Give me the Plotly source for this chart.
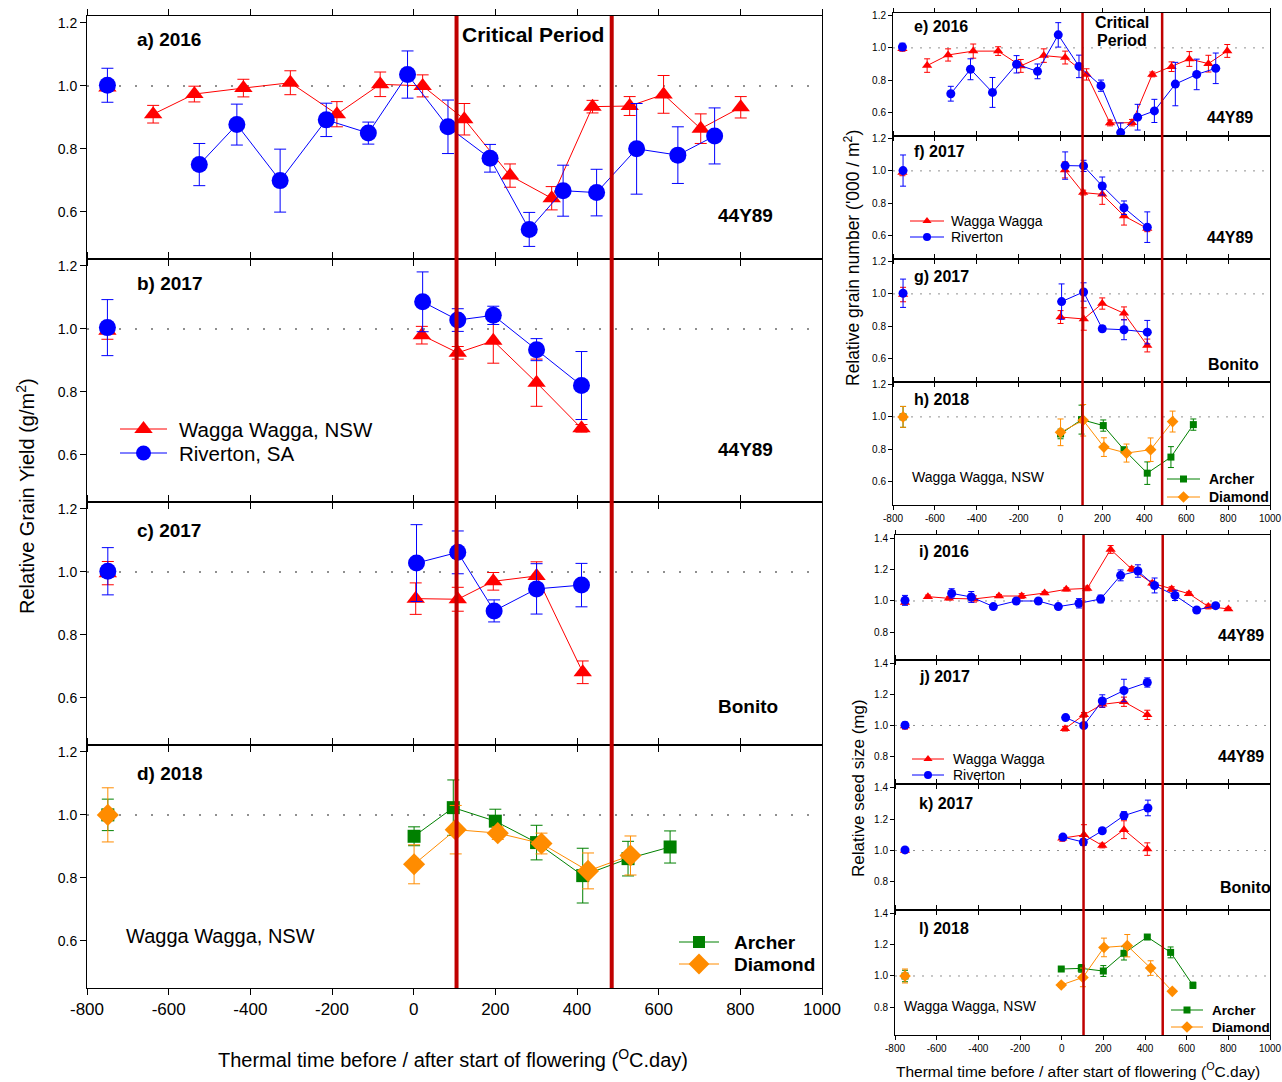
import plotly.graph_objects as go

W, H = 1282, 1082

# ---------------- data ----------------
crit = [105, 485]  # critical period boundaries (degC.day)
xticks = [-800, -600, -400, -200, 0, 200, 400, 600, 800, 1000]

# a) 2016 grain yield, 44Y89
a_ww_x = [-750, -638, -537, -417, -302, -188, -82, 22, 124, 236, 338, 438, 529, 612, 703, 801]
a_ww_y = [0.995, 0.91, 0.974, 0.993, 1.01, 0.91, 1.005, 1.0, 0.894, 0.715, 0.643, 0.934, 0.936, 0.973, 0.864, 0.932]
a_ww_e = [0.01, 0.028, 0.025, 0.028, 0.038, 0.04, 0.039, 0.035, 0.05, 0.037, 0.037, 0.02, 0.03, 0.06, 0.047, 0.034]
a_rv_x = [-750, -525, -433, -327, -214, -111, -15, 84, 187, 283, 366, 448, 546, 647, 737]
a_rv_y = [1.002, 0.75, 0.877, 0.699, 0.892, 0.85, 1.036, 0.87, 0.77, 0.544, 0.667, 0.661, 0.8, 0.78, 0.841]
a_rv_e = [0.054, 0.067, 0.065, 0.1, 0.053, 0.035, 0.075, 0.085, 0.044, 0.054, 0.081, 0.074, 0.144, 0.09, 0.089]

# b) 2017 grain yield, 44Y89
b_ww_x = [-750, 20, 108, 195, 301, 411]
b_ww_y = [0.994, 0.98, 0.924, 0.962, 0.829, 0.684]
b_ww_e = [0.027, 0.028, 0.02, 0.071, 0.075, 0.012]
b_rv_x = [-750, 22, 108, 195, 301, 411]
b_rv_y = [1.004, 1.086, 1.028, 1.043, 0.934, 0.82]
b_rv_e = [0.089, 0.095, 0.036, 0.029, 0.035, 0.108]

# c) 2017 grain yield, Bonito
c_ww_x = [-749, 5, 108, 195, 301, 414]
c_ww_y = [0.996, 0.915, 0.913, 0.97, 0.987, 0.681]
c_ww_e = [0.037, 0.05, 0.038, 0.028, 0.045, 0.036]
c_rv_x = [-749, 7, 108, 197, 301, 411]
c_rv_y = [1.002, 1.028, 1.062, 0.876, 0.946, 0.958]
c_rv_e = [0.075, 0.122, 0.068, 0.035, 0.08, 0.069]

# d) 2018 grain yield, Wagga Wagga
d_ar_x = [-749, 1, 97, 200, 301, 414, 525, 628]
d_ar_y = [1.0, 0.932, 1.023, 0.98, 0.912, 0.807, 0.861, 0.898]
d_ar_e = [0.05, 0.03, 0.088, 0.038, 0.055, 0.087, 0.055, 0.051]
d_di_x = [-749, 1, 103, 206, 313, 427, 531]
d_di_y = [1.0, 0.843, 0.953, 0.942, 0.909, 0.822, 0.871]
d_di_e = [0.086, 0.062, 0.077, 0.02, 0.033, 0.057, 0.062]

# e) 2016 grain number, 44Y89
e_ww_x = [-755, -637, -537, -417, -298, -190, -80, 22, 124, 236, 341, 438, 530, 615, 706, 796]
e_ww_y = [0.994, 0.89, 0.956, 0.98, 0.98, 0.888, 0.952, 0.94, 0.835, 0.533, 0.535, 0.835, 0.883, 0.931, 0.902, 0.981]
e_ww_e = [0.015, 0.042, 0.038, 0.044, 0.027, 0.04, 0.042, 0.04, 0.035, 0.018, 0.02, 0.015, 0.03, 0.046, 0.052, 0.04]
e_rv_x = [-755, -524, -430, -325, -210, -110, -11, 88, 193, 287, 368, 448, 548, 650, 741]
e_rv_y = [1.006, 0.715, 0.867, 0.723, 0.898, 0.854, 1.081, 0.885, 0.765, 0.473, 0.569, 0.608, 0.775, 0.835, 0.873]
e_rv_e = [0.023, 0.046, 0.065, 0.093, 0.054, 0.046, 0.076, 0.07, 0.035, 0.06, 0.08, 0.072, 0.135, 0.095, 0.095]

# f) 2017 grain number, 44Y89
f_ww_x = [-755, 21, 108, 199, 303, 414]
f_ww_y = [0.99, 1.006, 0.865, 0.854, 0.72, 0.642]
f_ww_e = [0.02, 0.05, 0.015, 0.062, 0.057, 0.02]
f_rv_x = [-752, 22, 110, 199, 303, 414]
f_rv_y = [1.002, 1.033, 1.031, 0.906, 0.771, 0.65]
f_rv_e = [0.097, 0.085, 0.035, 0.056, 0.042, 0.095]

# g) 2017 grain number, Bonito
g_ww_x = [-752, 0, 111, 199, 303, 414]
g_ww_y = [0.996, 0.856, 0.844, 0.94, 0.879, 0.679]
g_ww_e = [0.045, 0.04, 0.07, 0.035, 0.04, 0.04]
g_rv_x = [-752, 5, 110, 199, 303, 414]
g_rv_y = [1.004, 0.952, 1.012, 0.783, 0.777, 0.762]
g_rv_e = [0.088, 0.11, 0.057, 0.018, 0.062, 0.073]

# h) 2018 grain number, Wagga Wagga
h_ar_x = [-752, 0, 100, 204, 303, 414, 527, 634]
h_ar_y = [1.0, 0.894, 0.983, 0.946, 0.796, 0.65, 0.75, 0.952]
h_ar_e = [0.065, 0.03, 0.09, 0.035, 0.01, 0.07, 0.065, 0.035]
h_di_x = [-752, 0, 108, 207, 315, 430, 535]
h_di_y = [1.0, 0.904, 0.979, 0.812, 0.775, 0.796, 0.971]
h_di_e = [0.065, 0.083, 0.098, 0.058, 0.056, 0.073, 0.065]

# i) 2016 seed size, 44Y89
i_ww_x = [-752, -642, -541, -421, -301, -192, -82, 22, 123, 235, 336, 435, 528, 611, 704, 800]
i_ww_y = [0.991, 1.028, 1.017, 1.013, 1.032, 1.032, 1.051, 1.075, 1.081, 1.332, 1.206, 1.114, 1.077, 1.047, 0.964, 0.949]
i_ww_e = [0.012, 0.01, 0.01, 0.02, 0.01, 0.015, 0.01, 0.01, 0.015, 0.025, 0.015, 0.015, 0.015, 0.012, 0.015, 0.01]
i_rv_x = [-752, -528, -434, -328, -218, -112, -16, 83, 187, 283, 366, 446, 544, 648, 739]
i_rv_y = [1.004, 1.049, 1.026, 0.964, 1.0, 1.0, 0.964, 0.985, 1.013, 1.165, 1.193, 1.1, 1.036, 0.942, 0.97]
i_rv_e = [0.032, 0.03, 0.035, 0.01, 0.01, 0.01, 0.01, 0.03, 0.025, 0.035, 0.04, 0.048, 0.033, 0.008, 0.01]

# j) 2017 seed size, 44Y89
j_ww_x = [-752, 16, 107, 195, 299, 411]
j_ww_y = [0.996, 0.979, 1.069, 1.137, 1.154, 1.069]
j_ww_e = [0.02, 0.015, 0.015, 0.02, 0.03, 0.03]
j_rv_x = [-752, 19, 106, 195, 299, 411]
j_rv_y = [1.002, 1.051, 1.0, 1.159, 1.227, 1.279]
j_rv_e = [0.02, 0.01, 0.01, 0.04, 0.073, 0.03]

# k) 2017 seed size, Bonito
k_ww_x = [-752, 3, 107, 195, 299, 411]
k_ww_y = [1.0, 1.079, 1.1, 1.032, 1.133, 1.009]
k_ww_e = [0.015, 0.02, 0.065, 0.015, 0.057, 0.04]
k_rv_x = [-752, 6, 104, 195, 299, 414]
k_rv_y = [1.004, 1.086, 1.054, 1.126, 1.223, 1.272]
k_rv_e = [0.01, 0.015, 0.02, 0.015, 0.025, 0.05]

# l) 2018 seed size, Wagga Wagga
l_ar_x = [-752, -2, 94, 200, 299, 411, 523, 630]
l_ar_y = [1.0, 1.045, 1.049, 1.032, 1.146, 1.251, 1.152, 0.94]
l_ar_e = [0.037, 0.01, 0.025, 0.035, 0.043, 0.01, 0.035, 0.02]
l_di_x = [-752, -2, 102, 203, 315, 427, 531]
l_di_y = [1.0, 0.942, 0.991, 1.184, 1.195, 1.051, 0.901]
l_di_e = [0.045, 0.015, 0.06, 0.06, 0.072, 0.047, 0.01]

RED, BLUE, GREEN, ORANGE = "#ff0000", "#0000ff", "#008000", "#ff8c00"
CRIT = "#c00000"
FONT = "Liberation Sans, Arial, sans-serif"

fig = go.Figure()


def px(x):
    return x / W


def py(y):
    return 1 - y / H


# panel geometry in pixels: (x0, x1, ytop, ybot, yrange, group)
panels = [
    (87, 822, 16, 259, [0.45, 1.222], "L"),
    (87, 822, 259, 502, [0.45, 1.222], "L"),
    (87, 822, 502, 745, [0.45, 1.222], "L"),
    (87, 822, 745, 988, [0.45, 1.222], "L"),
    (893, 1270, 13, 136, [0.452, 1.217], "RU"),
    (893, 1270, 136, 259, [0.452, 1.217], "RU"),
    (893, 1270, 259, 382, [0.452, 1.217], "RU"),
    (893, 1270, 382, 505, [0.452, 1.217], "RU"),
    (895, 1270, 535, 660, [0.62, 1.425], "RL"),
    (895, 1270, 660, 784, [0.62, 1.425], "RL"),
    (895, 1270, 784, 910, [0.62, 1.425], "RL"),
    (895, 1270, 910, 1035, [0.62, 1.425], "RL"),
]
bottom_panels = {4, 8, 12}

layout = {}
shapes = []
for i, (x0, x1, yt, yb, yr, grp) in enumerate(panels, start=1):
    big = grp == "L"
    xk = "xaxis" if i == 1 else f"xaxis{i}"
    yk = "yaxis" if i == 1 else f"yaxis{i}"
    layout[xk] = dict(
        domain=[px(x0), px(x1)], range=[-800, 1000], anchor="y" if i == 1 else f"y{i}",
        tickvals=xticks, ticktext=[str(v) for v in xticks],
        ticks="outside", ticklen=6 if big else 4, tickcolor="black",
        showline=True, linecolor="black", linewidth=1, mirror="ticks",
        showgrid=False, zeroline=False, showticklabels=i in bottom_panels,
        automargin=False,
        tickfont=dict(family=FONT, size=17 if big else 10, color="black"),
    )
    yvals = [0.8, 1.0, 1.2, 1.4] if grp == "RL" else [0.6, 0.8, 1.0, 1.2]
    layout[yk] = dict(
        domain=[py(yb), py(yt)], range=yr, anchor="x" if i == 1 else f"x{i}",
        tickvals=yvals, ticktext=[f"{v:.1f}" for v in yvals],
        ticks="outside", ticklen=6 if big else 4, tickcolor="black",
        showline=True, linecolor="black", linewidth=1, mirror=True,
        showgrid=False, zeroline=False, automargin=False,
        tickfont=dict(family=FONT, size=14 if big else 10, color="black"),
    )
    xr = "x" if i == 1 else f"x{i}"
    yrr = "y" if i == 1 else f"y{i}"
    shapes.append(dict(
        type="line", xref=f"{xr} domain", yref=yrr, x0=0, x1=1, y0=1.0, y1=1.0,
        line=dict(color="#909090", width=2 if big else 1, dash="2px,14px" if big else "2px,7px"),
        layer="below"))

# overlay pixel axis for legend glyphs
layout["xaxis13"] = dict(domain=[0, 1], range=[0, W], visible=False, anchor="y13",
                         automargin=False, fixedrange=True)
layout["yaxis13"] = dict(domain=[0, 1], range=[H, 0], visible=False, anchor="x13",
                         automargin=False, fixedrange=True)

# critical period lines
for xr, ytop, ybot, w in [("x", 16, 988, 4), ("x5", 13, 505, 2.5), ("x9", 535, 1035, 2.5)]:
    for c in crit:
        shapes.append(dict(type="line", xref=xr, yref="paper", x0=c, x1=c,
                           y0=py(ybot), y1=py(ytop), line=dict(color=CRIT, width=w),
                           layer="above"))


def series(i, xs, ys, es, color, symbol, size, cap):
    xa = "x" if i == 1 else f"x{i}"
    ya = "y" if i == 1 else f"y{i}"
    # reference (pre-treatment) point, not connected
    fig.add_trace(go.Scatter(
        x=xs[:1], y=ys[:1], mode="markers", xaxis=xa, yaxis=ya,
        marker=dict(symbol=symbol, size=size, color=color, line=dict(width=0)),
        error_y=dict(type="data", array=es[:1], color=color, thickness=1, width=cap),
        showlegend=False, hoverinfo="skip"))
    fig.add_trace(go.Scatter(
        x=xs[1:], y=ys[1:], mode="lines+markers", xaxis=xa, yaxis=ya,
        line=dict(color=color, width=1),
        marker=dict(symbol=symbol, size=size, color=color, line=dict(width=0)),
        error_y=dict(type="data", array=es[1:], color=color, thickness=1, width=cap),
        showlegend=False))


# left panels
series(1, a_ww_x, a_ww_y, a_ww_e, RED, "triangle-up", 16, 6)
series(1, a_rv_x, a_rv_y, a_rv_e, BLUE, "circle", 17, 6)
series(2, b_ww_x, b_ww_y, b_ww_e, RED, "triangle-up", 16, 6)
series(2, b_rv_x, b_rv_y, b_rv_e, BLUE, "circle", 17, 6)
series(3, c_ww_x, c_ww_y, c_ww_e, RED, "triangle-up", 16, 6)
series(3, c_rv_x, c_rv_y, c_rv_e, BLUE, "circle", 17, 6)
series(4, d_ar_x, d_ar_y, d_ar_e, GREEN, "square", 13, 6)
series(4, d_di_x, d_di_y, d_di_e, ORANGE, "diamond", 17, 6)
# right upper panels
series(5, e_ww_x, e_ww_y, e_ww_e, RED, "triangle-up", 9, 3)
series(5, e_rv_x, e_rv_y, e_rv_e, BLUE, "circle", 9, 3)
series(6, f_ww_x, f_ww_y, f_ww_e, RED, "triangle-up", 9, 3)
series(6, f_rv_x, f_rv_y, f_rv_e, BLUE, "circle", 9, 3)
series(7, g_ww_x, g_ww_y, g_ww_e, RED, "triangle-up", 9, 3)
series(7, g_rv_x, g_rv_y, g_rv_e, BLUE, "circle", 9, 3)
series(8, h_ar_x, h_ar_y, h_ar_e, GREEN, "square", 7, 3)
series(8, h_di_x, h_di_y, h_di_e, ORANGE, "diamond", 9, 3)
# right lower panels
series(9, i_ww_x, i_ww_y, i_ww_e, RED, "triangle-up", 9, 3)
series(9, i_rv_x, i_rv_y, i_rv_e, BLUE, "circle", 9, 3)
series(10, j_ww_x, j_ww_y, j_ww_e, RED, "triangle-up", 9, 3)
series(10, j_rv_x, j_rv_y, j_rv_e, BLUE, "circle", 9, 3)
series(11, k_ww_x, k_ww_y, k_ww_e, RED, "triangle-up", 9, 3)
series(11, k_rv_x, k_rv_y, k_rv_e, BLUE, "circle", 9, 3)
series(12, l_ar_x, l_ar_y, l_ar_e, GREEN, "square", 7, 3)
series(12, l_di_x, l_di_y, l_di_e, ORANGE, "diamond", 9, 3)

# annotations
ann = []


def text(t, x, y, size, bold=False, anchor="center", angle=0):
    ann.append(dict(text=f"<b>{t}</b>" if bold else t, x=px(x), y=py(y), xref="paper", yref="paper",
                    xanchor=anchor, yanchor="middle", showarrow=False, textangle=angle,
                    font=dict(family=FONT, size=size, color="black")))


# legend entries drawn on the pixel overlay axis
def legend_entry(lx0, lx1, y, color, symbol, size, label, fsize, bold, tx):
    fig.add_trace(go.Scatter(
        x=[lx0, (lx0 + lx1) / 2, lx1], y=[y, y, y], mode="lines", xaxis="x13", yaxis="y13",
        line=dict(color=color, width=1), showlegend=False, hoverinfo="skip"))
    fig.add_trace(go.Scatter(
        x=[(lx0 + lx1) / 2], y=[y], mode="markers", xaxis="x13", yaxis="y13",
        marker=dict(symbol=symbol, size=size, color=color, line=dict(width=0)),
        showlegend=False, hoverinfo="skip"))
    text(label, tx, y, fsize, bold, "left")


legend_entry(120, 167, 429, RED, "triangle-up", 16, "Wagga Wagga, NSW", 20.5, False, 177)
legend_entry(120, 167, 453, BLUE, "circle", 15, "Riverton, SA", 20.5, False, 177)
legend_entry(679, 719, 942, GREEN, "square", 12, "Archer", 19, True, 732)
legend_entry(679, 719, 964, ORANGE, "diamond", 16, "Diamond", 19, True, 732)
legend_entry(910, 944, 221, RED, "triangle-up", 8, "Wagga Wagga", 14, False, 949)
legend_entry(910, 944, 237, BLUE, "circle", 8, "Riverton", 14, False, 949)
legend_entry(1167, 1200, 479, GREEN, "square", 7, "Archer", 14, True, 1207)
legend_entry(1167, 1200, 497, ORANGE, "diamond", 9, "Diamond", 14, True, 1207)
legend_entry(912, 944, 759, RED, "triangle-up", 8, "Wagga Wagga", 14, False, 951)
legend_entry(912, 944, 775, BLUE, "circle", 8, "Riverton", 14, False, 951)
legend_entry(1171, 1203, 1010, GREEN, "square", 7, "Archer", 13.5, True, 1210)
legend_entry(1171, 1203, 1027, ORANGE, "diamond", 9, "Diamond", 13.5, True, 1210)

text("a) 2016", 135, 39, 19, True, "left")
text("Critical Period", 533, 35, 21, True)
text("44Y89", 745, 216, 19, True)
text("b) 2017", 135, 283, 19, True, "left")
text("44Y89", 745, 450, 19, True)
text("c) 2017", 135, 530, 19, True, "left")
text("Bonito", 748, 706, 19, True)
text("d) 2018", 135, 773, 19, True, "left")
text("Wagga Wagga, NSW", 220, 936, 20)
text("Thermal time before / after start of flowering (<sup>O</sup>C.day)", 453, 1058, 20)
text("Relative Grain Yield (g/m<sup>2</sup>)", 25, 496, 20, angle=-90)

text("e) 2016", 912, 27, 16, True, "left")
text("Critical", 1122, 22, 16, True)
text("Period", 1122, 40, 16, True)
text("44Y89", 1230, 117, 16, True)
text("f) 2017", 912, 151, 16, True, "left")
text("44Y89", 1230, 237, 16, True)
text("g) 2017", 912, 276, 16, True, "left")
text("Bonito", 1233, 365, 16, True)
text("h) 2018", 912, 399, 16, True, "left")
text("Wagga Wagga, NSW", 978, 477, 14)
text("Relative grain number ('000 / m<sup>2</sup>)", 852, 258, 17.5, angle=-90)

text("i) 2016", 917, 551, 16, True, "left")
text("44Y89", 1241, 635, 16, True)
text("j) 2017", 917, 676, 16, True, "left")
text("44Y89", 1241, 756, 16, True)
text("k) 2017", 917, 803, 16, True, "left")
text("Bonito", 1245, 887, 16, True)
text("l) 2018", 917, 928, 16, True, "left")
text("Wagga Wagga, NSW", 971, 1006, 14)
text("Relative seed size (mg)", 858, 788, 17, angle=-90)
text("Thermal time before / after start of flowering (<sup>O</sup>C.day)", 1078, 1070, 15.5)

fig.update_layout(
    width=W, height=H, margin=dict(l=0, r=0, t=0, b=0, autoexpand=False),
    paper_bgcolor="white", plot_bgcolor="rgba(0,0,0,0)",
    font=dict(family=FONT, color="black"), showlegend=False,
    shapes=shapes, annotations=ann, **layout,
)

fig.write_html("out.html", config={"displayModeBar": False},
               post_script="document.body.style.margin='0px';")
